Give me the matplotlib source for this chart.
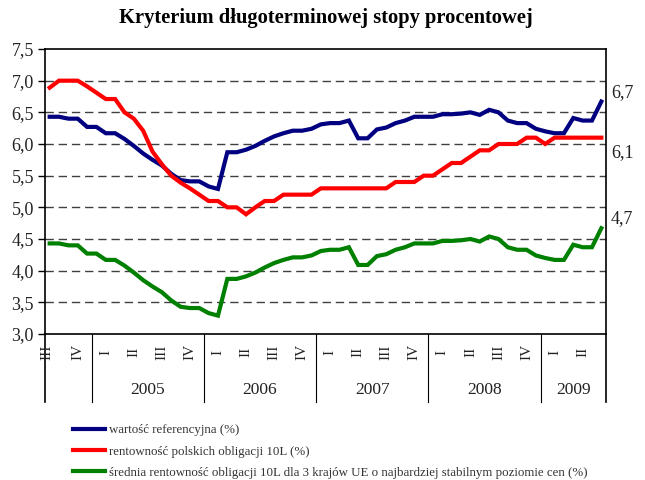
import matplotlib.pyplot as plt
import numpy as np

plt.rcParams['font.family'] = ['Liberation Serif', 'DejaVu Serif']

# monthly data, Aug 2004 - Jul 2009
ref_value = [6.43, 6.43, 6.40, 6.40, 6.27, 6.27, 6.17, 6.17, 6.08, 5.97,
             5.85, 5.75, 5.66, 5.53, 5.43, 5.41, 5.41, 5.33, 5.29, 5.87,
             5.87, 5.91, 5.97, 6.05, 6.12, 6.17, 6.21, 6.21, 6.24, 6.31,
             6.33, 6.33, 6.37, 6.09, 6.09, 6.23, 6.26, 6.33, 6.37, 6.43,
             6.43, 6.43, 6.47, 6.47, 6.48, 6.50, 6.46, 6.54, 6.50, 6.37,
             6.33, 6.33, 6.24, 6.20, 6.17, 6.17, 6.41, 6.37, 6.37, 6.67]
pl_yield = [6.89, 7.00, 7.00, 7.00, 6.91, 6.81, 6.71, 6.71, 6.50, 6.40,
            6.21, 5.88, 5.68, 5.50, 5.39, 5.30, 5.20, 5.10, 5.10, 5.00,
            5.00, 4.89, 5.00, 5.10, 5.10, 5.20, 5.20, 5.20, 5.20, 5.30,
            5.30, 5.30, 5.30, 5.30, 5.30, 5.30, 5.30, 5.40, 5.40, 5.40,
            5.50, 5.50, 5.60, 5.70, 5.70, 5.80, 5.90, 5.90, 6.00, 6.00,
            6.00, 6.10, 6.10, 6.00, 6.10, 6.10, 6.10, 6.10, 6.10, 6.10]
eu3_yield = [4.43, 4.43, 4.40, 4.40, 4.27, 4.27, 4.17, 4.17, 4.08, 3.97,
             3.85, 3.75, 3.66, 3.53, 3.43, 3.41, 3.41, 3.33, 3.29, 3.87,
             3.87, 3.91, 3.97, 4.05, 4.12, 4.17, 4.21, 4.21, 4.24, 4.31,
             4.33, 4.33, 4.37, 4.09, 4.09, 4.23, 4.26, 4.33, 4.37, 4.43,
             4.43, 4.43, 4.47, 4.47, 4.48, 4.50, 4.46, 4.54, 4.50, 4.37,
             4.33, 4.33, 4.24, 4.20, 4.17, 4.17, 4.41, 4.37, 4.37, 4.67]

quarter_labels = ['III', 'IV'] + ['I', 'II', 'III', 'IV'] * 4 + ['I', 'II']
quarter_pos = [-0.3, 3] + [6 + 3 * k for k in range(18)]
years = ['2005', '2006', '2007', '2008', '2009']
year_edges = [4.5, 16.5, 28.5, 40.5, 52.5, 59.5]

series = [
    (ref_value, '#000080', 'wartość referencyjna (%)', 9),
    (pl_yield, '#ff0000', 'rentowność polskich obligacji 10L (%)', -15),
    (eu3_yield, '#008000', 'średnia rentowność obligacji 10L dla 3 krajów UE o najbardziej stabilnym poziomie cen (%)', 10),
]

fig = plt.figure(figsize=(6.45, 4.8), dpi=100)
ax = fig.add_axes([45 / 645, 1 - 334 / 480, 561 / 645, 285 / 480])
x = np.arange(len(ref_value))

for yv in np.arange(3.5, 7.5, 0.5):
    ax.axhline(yv, color='#404040', lw=1, dashes=(6, 3.5), zorder=1)

handles = []
for vals, col, lab, dy in series:
    h, = ax.plot(x, vals, color=col, lw=3, solid_joinstyle='miter', zorder=3, label=lab)
    handles.append(h)
    ax.annotate(f'{vals[-1]:.1f}'.replace('.', ','), (x[-1], vals[-1]),
                xytext=(7, dy * 0.72), textcoords='offset points',
                ha='left', va='center', fontsize=13, color='#222222',
                annotation_clip=False)

ax.set_xlim(-0.5, 59.5)
ax.set_ylim(3.0, 7.5)
ax.set_yticks(np.arange(3.0, 7.51, 0.5))
ax.set_yticklabels([f'{v:.1f}'.replace('.', ',') for v in np.arange(3.0, 7.51, 0.5)],
                   fontsize=13, color='#222222')
ax.tick_params(axis='y', direction='out', length=5, width=1, pad=3)
ax.set_xticks([])
for s in ax.spines.values():
    s.set_linewidth(1.2)

# category axis below the plot
trans = ax.get_xaxis_transform()
for xe in [-0.5] + year_edges:
    ax.plot([xe, xe], [0, -0.24], transform=trans, color='black',
            lw=1.2 if xe in (-0.5, 59.5) else 0.8, clip_on=False)
for lab, p in zip(quarter_labels, quarter_pos):
    ax.text(p, -0.063, lab, transform=trans, rotation=90, ha='center', va='center',
            fontsize=11, color='#222222')
year_starts = [4.5, 16.5, 28.5, 40.5, 52.5]
for yr, a, b in zip(years, year_starts, year_edges[1:]):
    ax.text((a + b) / 2, -0.196, yr, transform=trans, ha='center', va='center',
            fontsize=12.5, color='#222222')

fig.text(0.505, 1 - 18 / 480, 'Kryterium długoterminowej stopy procentowej',
         ha='center', va='center', fontsize=14.8, fontweight='bold')

fig.legend(handles=handles, loc='upper left', bbox_to_anchor=(68 / 645, 1 - 419 / 480),
           frameon=False, fontsize=9.3, handlelength=2.5, handletextpad=0.3,
           labelspacing=0.72, borderaxespad=0, labelcolor='#333333')

fig.savefig('out.png', dpi=100)
